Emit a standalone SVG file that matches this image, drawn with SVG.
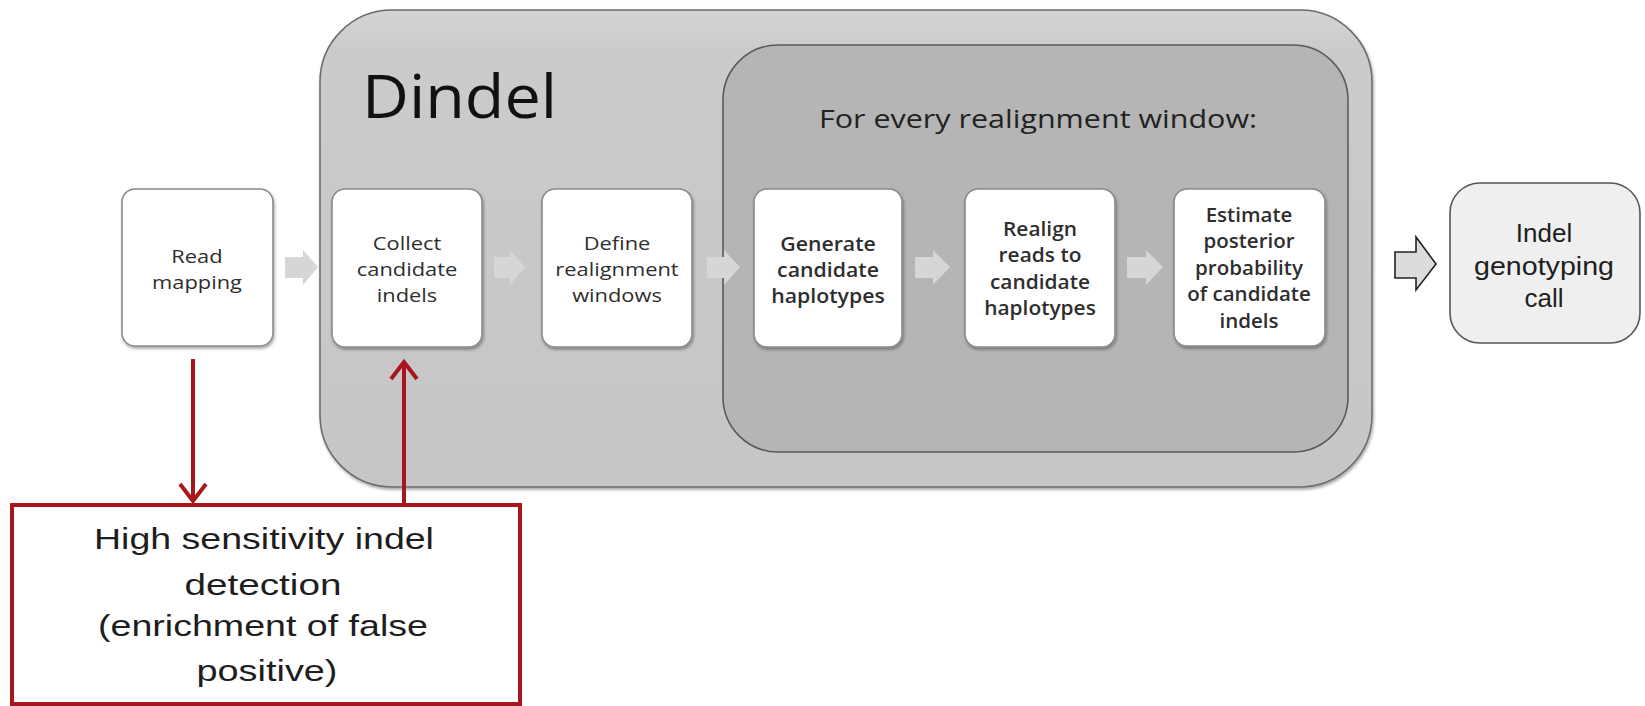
<svg xmlns="http://www.w3.org/2000/svg" width="1645" height="706" viewBox="0 0 1645 706">
<defs>
<style>
.step{fill:#ffffff;stroke:#8a8a8a;stroke-width:1.6}
.stxt{font-family:"Open Sans","DejaVu Sans",sans-serif;font-size:19px;fill:#2e2e2e;text-anchor:middle}
.big{font-family:"Liberation Sans",Arial,sans-serif;fill:#1e1e1e;text-anchor:middle}
.garrow{fill:#d6d6d6}
.red{stroke:#a8161d;stroke-width:4;fill:none}
</style>
<filter id="sh" x="-10%" y="-10%" width="130%" height="130%">
<feDropShadow dx="1" dy="2" stdDeviation="1.5" flood-color="#000" flood-opacity="0.35"/>
</filter>
<linearGradient id="outerG" x1="0" y1="0" x2="0" y2="1">
<stop offset="0" stop-color="#d4d4d4"/>
<stop offset="0.08" stop-color="#cbcbcb"/>
<stop offset="1" stop-color="#c6c6c6"/>
</linearGradient>
<linearGradient id="arrG" x1="0" y1="0" x2="1" y2="0">
<stop offset="0" stop-color="#c9c9c9"/>
<stop offset="1" stop-color="#dedede"/>
</linearGradient>
</defs>

<g id="dindel">
<rect x="320" y="10" width="1052" height="477" rx="72" ry="72" fill="url(#outerG)" stroke="#6e6e6e" stroke-width="1.6" filter="url(#sh)"/>
<text x="362" y="118" font-family="'Open Sans','DejaVu Sans',sans-serif" font-size="60" fill="#111" textLength="195" lengthAdjust="spacingAndGlyphs">Dindel</text>
</g>

<g id="window-loop">
<rect x="723" y="45" width="625" height="407" rx="55" ry="55" fill="#b5b5b5" stroke="#5a5a5a" stroke-width="1.6"/>
<text x="1038" y="128" font-family="'Open Sans','DejaVu Sans',sans-serif" font-size="25" fill="#222" text-anchor="middle" textLength="438" lengthAdjust="spacingAndGlyphs">For every realignment window:</text>
</g>

<g id="read-mapping">
<rect class="step" x="122" y="189" width="151" height="157" rx="13" filter="url(#sh)"/>
<text class="stxt" transform="translate(197 0) scale(1.15 1)"><tspan x="0" y="263">Read</tspan><tspan x="0" y="289">mapping</tspan></text>
</g>

<g id="collect">
<rect class="step" x="332" y="189" width="150" height="158" rx="13" filter="url(#sh)"/>
<text class="stxt" transform="translate(407 0) scale(1.15 1)"><tspan x="0" y="250">Collect</tspan><tspan x="0" y="276">candidate</tspan><tspan x="0" y="302">indels</tspan></text>
</g>

<g id="define">
<rect class="step" x="542" y="189" width="150" height="158" rx="13" filter="url(#sh)"/>
<text class="stxt" transform="translate(617 0) scale(1.15 1)"><tspan x="0" y="250">Define</tspan><tspan x="0" y="276">realignment</tspan><tspan x="0" y="302">windows</tspan></text>
</g>

<g id="generate">
<rect class="step" x="754" y="189" width="148" height="158" rx="13" filter="url(#sh)"/>
<text class="stxt" font-weight="600" transform="translate(828 0) scale(1.12 1)"><tspan x="0" y="251">Generate</tspan><tspan x="0" y="277">candidate</tspan><tspan x="0" y="303">haplotypes</tspan></text>
</g>

<g id="realign">
<rect class="step" x="965" y="189" width="150" height="158" rx="13" filter="url(#sh)"/>
<text class="stxt" font-weight="600" transform="translate(1040 0) scale(1.1 1)"><tspan x="0" y="236">Realign</tspan><tspan x="0" y="262">reads to</tspan><tspan x="0" y="289">candidate</tspan><tspan x="0" y="315">haplotypes</tspan></text>
</g>

<g id="estimate">
<rect class="step" x="1174" y="189" width="151" height="157" rx="13" filter="url(#sh)"/>
<text class="stxt" font-weight="600" transform="translate(1249 0) scale(1.08 1)"><tspan x="0" y="222">Estimate</tspan><tspan x="0" y="248">posterior</tspan><tspan x="0" y="275">probability</tspan><tspan x="0" y="301">of candidate</tspan><tspan x="0" y="328">indels</tspan></text>
</g>

<g id="indel-call">
<rect x="1450" y="183" width="190" height="160" rx="30" ry="30" fill="#efefef" stroke="#555" stroke-width="1.6"/>
<text class="big" font-size="26"><tspan x="1544" y="242">Indel</tspan><tspan x="1544" y="275" textLength="140" lengthAdjust="spacingAndGlyphs">genotyping</tspan><tspan x="1544" y="307">call</tspan></text>
</g>

<g id="sensitivity-note">
<rect x="12" y="505" width="508" height="199" fill="#ffffff" stroke="#a8161d" stroke-width="4"/>
<text class="big" font-size="29">
<tspan x="268" y="549" textLength="340" lengthAdjust="spacingAndGlyphs">High sensitivity indel</tspan>
<tspan x="267" y="595" textLength="157" lengthAdjust="spacingAndGlyphs">detection</tspan>
<tspan x="267" y="636" textLength="330" lengthAdjust="spacingAndGlyphs">(enrichment of false</tspan>
<tspan x="267" y="681" textLength="141" lengthAdjust="spacingAndGlyphs">positive)</tspan>
</text>
</g>

<g id="connectors">
<path class="garrow" fill="url(#arrG)" d="M285 257 H303 V250 L318 267 L303 285 V278 H285 Z"/>
<path class="garrow" fill="#d3d3d3" d="M494 257 H510 V250 L525 267 L510 285 V278 H494 Z"/>
<path class="garrow" fill="#d3d3d3" d="M707 257 H724 V250 L740 267 L724 285 V278 H707 Z"/>
<path class="garrow" fill="#d3d3d3" d="M915 257 H933 V250 L950 267 L933 285 V278 H915 Z"/>
<path class="garrow" fill="#d3d3d3" d="M1127 257 H1146 V250 L1163 267 L1146 285 V278 H1127 Z"/>
<path d="M1395 252 H1416 V237 L1436 264 L1416 290 V278 H1395 Z" fill="#dcdcdc" stroke="#222" stroke-width="1.6" stroke-linejoin="miter"/>
<line class="red" x1="193" y1="359" x2="193" y2="501"/>
<polyline class="red" points="180,484 193,501 206,484"/>
<line class="red" x1="404" y1="505" x2="404" y2="362"/>
<polyline class="red" points="391,379 404,362 417,379"/>
</g>
</svg>
